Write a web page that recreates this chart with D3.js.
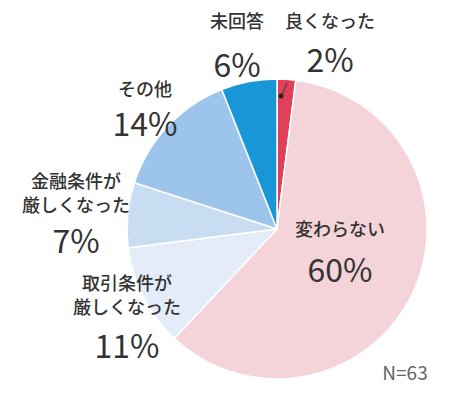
<!DOCTYPE html><html><head><meta charset="utf-8">
<script src="https://cdn.jsdelivr.net/npm/d3@7"></script>
<style>body{margin:0;background:#fff}</style></head><body>
<svg id="c" width="456" height="405"></svg>
<script>
const categories=["良くなった","変わらない","取引条件が厳しくなった","金融条件が厳しくなった","その他","未回答"];
const values=[2,60,11,7,14,6];
const colors=["#e0405a","#f4d4d9","#e3ecf8","#c8ddf2","#9dc4eb","#1996d5"];
const svg=d3.select("#c");
const cx=277,cy=229,r=150;
const g=svg.append("g").attr("transform",`translate(${cx},${cy})`);
const pie=d3.pie().sort(null).value(d=>d)(values);
const arc=d3.arc().innerRadius(0).outerRadius(r);
g.selectAll("path").data(pie).join("path").attr("d",arc).attr("fill",(d,i)=>colors[i]).attr("stroke","#fff").attr("stroke-width",1.5);
const labels=[
 {lines:["良くなった"],pct:"2%",x:330,y:28,px:330,py:72},
 {lines:["変わらない"],pct:"60%",x:340,y:236,px:340,py:282},
 {lines:["取引条件が","厳しくなった"],pct:"11%",x:127,y:290,px:127,py:358},
 {lines:["金融条件が","厳しくなった"],pct:"7%",x:76,y:188,px:76,py:253},
 {lines:["その他"],pct:"14%",x:145,y:96,px:145,py:136},
 {lines:["未回答"],pct:"6%",x:237,y:28,px:237,py:77}
];
labels.forEach(l=>{
 l.lines.forEach((t,i)=>svg.append("text").attr("x",l.x).attr("y",l.y+i*24).attr("text-anchor","middle")
  .attr("font-family","Noto Sans CJK JP").attr("font-weight",500).attr("font-size",18).attr("fill","#333").text(t));
 svg.append("text").attr("x",l.px).attr("y",l.py).attr("text-anchor","middle")
  .attr("font-family","Noto Sans CJK JP").attr("font-size",32).attr("fill","#333").text(l.pct);
});
svg.append("line").attr("x1",282).attr("y1",95).attr("x2",287).attr("y2",83).attr("stroke","#333").attr("stroke-width",1);
svg.append("circle").attr("cx",281).attr("cy",96).attr("r",2.5).attr("fill","#222");
svg.append("text").attr("x",405).attr("y",380).attr("text-anchor","middle").attr("font-family","Noto Sans CJK JP")
 .attr("font-size",19).attr("fill","#666").text("N=63");
</script></body></html>
